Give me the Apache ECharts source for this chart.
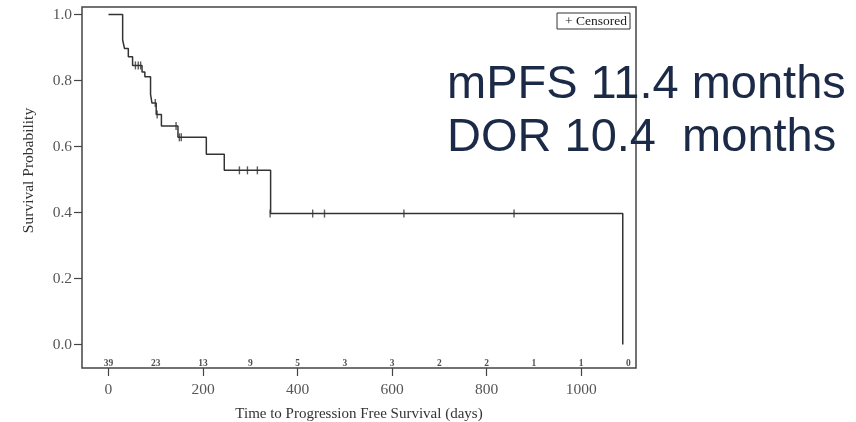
<!DOCTYPE html>
<html><head><meta charset="utf-8">
<script src="https://cdn.jsdelivr.net/npm/echarts@6/dist/echarts.min.js"></script>
<style>html,body{margin:0;padding:0;background:#fff}#c{width:856px;height:422px}</style>
</head><body><div id="c"></div>
<script>
// Kaplan-Meier step points (days, survival probability after step)
var stepDays = [0, 30, 34, 42, 51, 71, 77, 89, 92, 101, 112, 147, 207, 245, 343, 1088];
var stepSurv = [1.0, 0.923, 0.897, 0.872, 0.846, 0.826, 0.812, 0.758, 0.732, 0.697, 0.662, 0.628, 0.577, 0.528, 0.397, 0.0];
// Censored observations
var censDays = [57, 63, 68, 99, 103, 143, 150, 154, 277, 294, 315, 342, 432, 457, 625, 858];
var censSurv = [0.846, 0.846, 0.846, 0.732, 0.697, 0.662, 0.628, 0.628, 0.528, 0.528, 0.528, 0.397, 0.397, 0.397, 0.397, 0.397];
// Number at risk
var riskDays = [0, 100, 200, 300, 400, 500, 600, 700, 800, 900, 1000, 1100];
var riskCounts = [39, 23, 13, 9, 5, 3, 3, 2, 2, 1, 1, 0];
var xTicks = [0, 200, 400, 600, 800, 1000];
var yTicks = [0, 0.2, 0.4, 0.6, 0.8, 1.0];
var riskRowY = -0.058;

var chart = echarts.init(document.getElementById('c'), null, {renderer: 'canvas'});
var serif = '"Liberation Serif", "DejaVu Serif", serif';
chart.setOption({
  animation: false,
  grid: {left: 82, right: 220, top: 7, bottom: 54, show: true, borderColor: '#444', borderWidth: 1.5,
    backgroundColor: 'transparent', containLabel: false, outerBoundsMode: 'none'},
  legend: {
    data: ['Censored'], right: 226, top: 13, icon: 'none', itemWidth: 0, itemHeight: 0,
    borderColor: '#333', borderWidth: 1, padding: [1, 3, 1, 3], borderRadius: 0,
    formatter: function () { return '+ Censored'; },
    textStyle: {fontFamily: serif, fontSize: 13.5, color: '#222', padding: 0}
  },
  xAxis: {
    type: 'value', min: -56, max: 1116,
    name: 'Time to Progression Free Survival (days)', nameLocation: 'middle', nameGap: 39,
    nameTextStyle: {fontFamily: serif, fontSize: 15, color: '#333'},
    axisLine: {show: false, onZero: false},
    axisTick: {show: true, length: 8, inside: false, customValues: xTicks, lineStyle: {color: '#444', width: 1.2}},
    axisLabel: {customValues: xTicks, margin: 14, fontFamily: serif, fontSize: 15.5, color: '#555',
      formatter: function (v) { return String(v); }},
    splitLine: {show: false}
  },
  yAxis: {
    type: 'value', min: -0.071, max: 1.023,
    name: 'Survival Probability', nameLocation: 'middle', nameGap: 45, nameRotate: 90,
    nameTextStyle: {fontFamily: serif, fontSize: 15.5, color: '#333', padding: [0, 0, 0, 34]},
    axisLine: {show: false, onZero: false},
    axisTick: {show: true, length: 8, customValues: yTicks, lineStyle: {color: '#444', width: 1.2}},
    axisLabel: {customValues: yTicks, margin: 10, fontFamily: serif, fontSize: 15.5, color: '#555',
      formatter: function (v) { return v.toFixed(1); }},
    splitLine: {show: false}
  },
  series: [
    {
      type: 'line', step: 'end', symbol: 'none', silent: true,
      data: stepDays.map(function (d, i) { return [d, stepSurv[i]]; }),
      lineStyle: {color: '#333', width: 1.5}
    },
    {
      name: 'Censored', type: 'scatter', symbol: 'rect', symbolSize: [1.4, 8], silent: true,
      data: censDays.map(function (d, i) { return [d, censSurv[i]]; }),
      itemStyle: {color: '#333'}
    },
    {
      type: 'scatter', symbol: 'circle', symbolSize: 1, silent: true,
      data: riskDays.map(function (d, i) { return [d, riskRowY, riskCounts[i]]; }),
      itemStyle: {color: 'rgba(0,0,0,0)'},
      label: {show: true, position: 'inside', formatter: function (p) { return p.value[2]; },
        fontFamily: serif, fontSize: 9.5, fontWeight: 'bold', color: '#222'}
    }
  ],
  graphic: [
    {type: 'text', left: 447, top: 62, style: {text: 'mPFS 11.4 months', font: '47px "Liberation Sans", Arial, sans-serif', fill: '#1b2a47'}},
    {type: 'text', left: 447, top: 115, style: {text: 'DOR 10.4  months', font: '47px "Liberation Sans", Arial, sans-serif', fill: '#1b2a47'}}
  ]
});
</script></body></html>
